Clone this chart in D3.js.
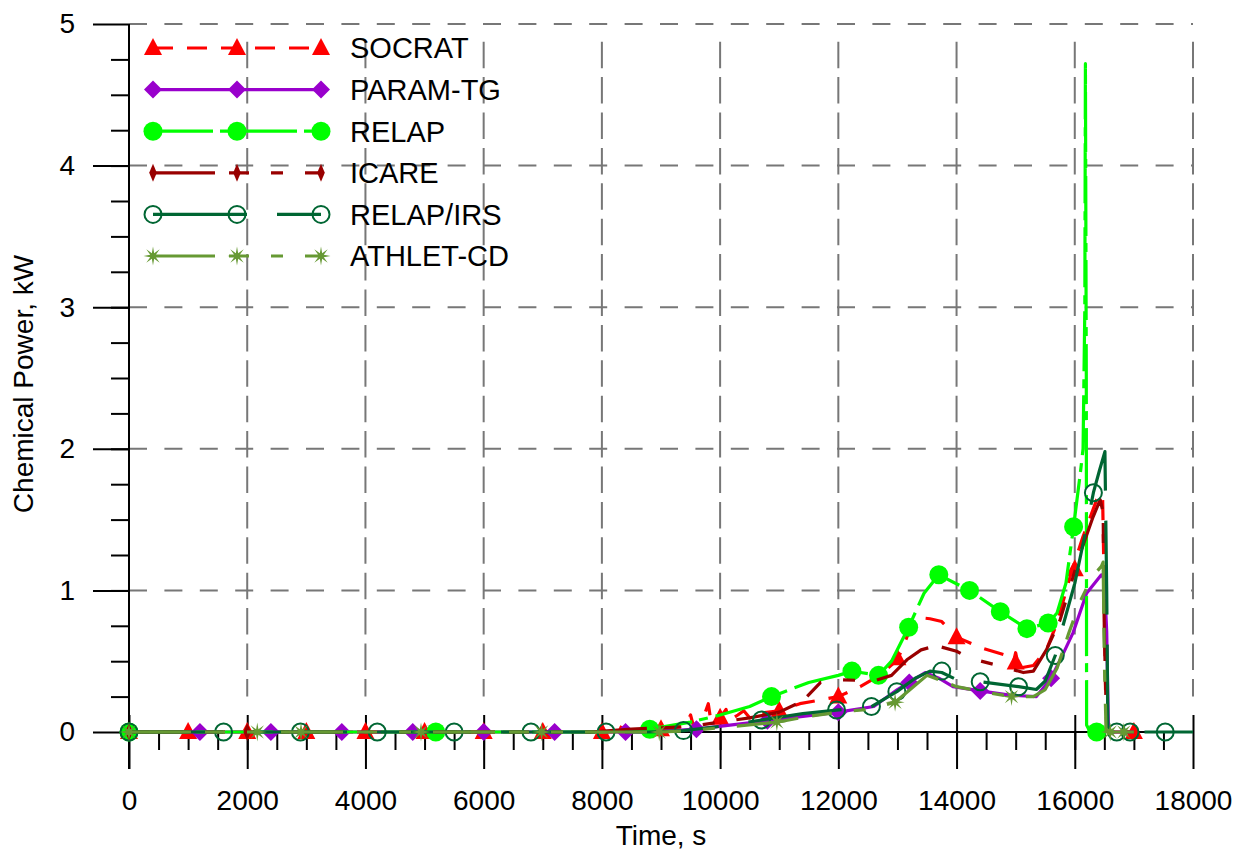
<!DOCTYPE html>
<html>
<head>
<meta charset="utf-8">
<script src="https://cdn.jsdelivr.net/npm/d3@7"></script>
<style>
  html, body { margin: 0; padding: 0; background: #fff; }
  svg { display: block; font-family: "Liberation Sans", Arial, sans-serif; }
</style>
</head>
<body>
<svg id="chart" width="1251" height="853"></svg>
<script>
// ---- data: time (s) and chemical power (kW) ----
const xTicks = [0, 2000, 4000, 6000, 8000, 10000, 12000, 14000, 16000, 18000];
const yTicks = [0, 1, 2, 3, 4, 5];

const socrat = [[0,0],[8200,0],[8300,0.01],[8360,0.07],[8420,0.01],[9000,0.02],[9400,0.04],[9500,0.12],[9550,0.04],
  [9700,0.08],[9800,0.2],[9850,0.06],[10000,0.1],[10100,0.16],[10150,0.08],[10300,0.12],[10400,0.15],[10500,0.1],
  [10600,0.13],[11000,0.15],[11350,0.2],[12000,0.25],[12370,0.32],[12700,0.40],[13000,0.51],[13160,0.67],[13320,0.81],
  [13550,0.80],[13750,0.78],[14000,0.67],[14450,0.59],[14850,0.54],[14950,0.47],[15000,0.56],[15050,0.45],[15300,0.47],
  [15520,0.58],[15700,0.77],[15950,1.14],[16140,1.38],[16370,1.64],[16470,1.68],[16490,1.2],[16520,0.3],[16560,0],[17000,0]];
const socratMarks = [[0,0],[1000,0],[2000,0],[3000,0],[4000,0],[5000,0],[6000,0],[7000,0],[8000,0],[9000,0.02],
  [10000,0.1],[11000,0.15],[12000,0.25],[13000,0.52],[14000,0.67],[15000,0.49],[16000,1.15],[17000,0]];

const paramTG = [[0,0],[8800,0],[9600,0.02],[10200,0.05],[10800,0.08],[11400,0.11],[12000,0.14],[12600,0.18],[13000,0.3],
  [13200,0.35],[13470,0.42],[13700,0.38],[13940,0.32],[14400,0.29],[14900,0.26],[15350,0.25],[15600,0.38],[15800,0.55],
  [15970,0.70],[16200,0.98],[16450,1.11],[16500,1.08],[16540,0.71],[16570,0],[17000,0]];
const paramTGMarks = [[0,0],[1200,0],[2400,0],[3600,0],[4800,0],[6000,0],[7200,0],[8400,0],[9600,0.02],[10800,0.08],
  [12000,0.14],[13200,0.35],[14400,0.29],[15600,0.38]];

const relap = [[0,0],[8000,0],[8810,0.02],[9500,0.07],[10000,0.12],[10500,0.18],[10870,0.25],[11500,0.35],[12000,0.40],
  [12230,0.43],[12680,0.40],[12900,0.50],[13190,0.74],[13450,0.98],[13700,1.11],[14220,1.0],[14740,0.85],[15190,0.73],
  [15550,0.77],[15700,0.84],[15850,1.05],[15980,1.45],[16100,1.85],[16140,2.0],[16170,3.0],[16180,4.72],[16195,2.5],
  [16200,0.05],[16260,0],[16400,0]];
const relapMarks = [[0,0],[5190,0],[8810,0.02],[10870,0.25],[12230,0.43],[12680,0.40],[13190,0.74],[13700,1.11],
  [14220,1.0],[14740,0.85],[15190,0.73],[15550,0.77],[15980,1.45],[16370,0]];

const icare = [[0,0],[7800,0],[8500,0.02],[9000,0.03],[9500,0.04],[10000,0.07],[10500,0.1],[11000,0.14],[11400,0.22],
  [11700,0.35],[12000,0.37],[12600,0.36],[12900,0.40],[13160,0.51],[13400,0.58],[13660,0.61],[14000,0.57],[14230,0.52],
  [14790,0.46],[15130,0.42],[15300,0.43],[15520,0.58],[15750,0.79],[16090,1.26],[16310,1.52],[16430,1.64],[16480,1.55],
  [16500,0.7],[16540,0],[17000,0]];
const icareMarks = [[0,0],[2000,0]];

const relapIRS = [[0,0],[8800,0],[9380,0.01],[10000,0.04],[10700,0.085],[11400,0.13],[11970,0.155],[12560,0.18],
  [12990,0.285],[13300,0.38],[13550,0.43],[13750,0.42],[14000,0.37],[14400,0.355],[15050,0.32],[15350,0.30],[15500,0.36],
  [15670,0.54],[15800,0.75],[16000,1.05],[16200,1.45],[16315,1.69],[16420,1.85],[16510,1.98],[16540,1.0],[16560,0],[18000,0]];
const relapIRSMarks = [[0,0],[1600,0],[2900,0],[4200,0],[5500,0],[6800,0],[8070,0],[9380,0.01],[10700,0.085],
  [11970,0.155],[12560,0.18],[12990,0.285],[13750,0.43],[14400,0.355],[15050,0.32],[15670,0.54],[16315,1.69],
  [16710,0],[16935,0],[17530,0]];

const athlet = [[0,0],[9000,0],[9500,0.01],[10000,0.03],[10960,0.07],[11500,0.11],[12000,0.14],[12500,0.16],[12960,0.21],
  [13300,0.33],[13500,0.40],[13700,0.37],[14000,0.32],[14500,0.28],[14930,0.25],[15300,0.25],[15500,0.3],[15700,0.45],
  [15900,0.7],[16100,0.93],[16300,1.1],[16450,1.17],[16480,1.2],[16500,0.5],[16530,0],[17000,0]];
const athletMarks = [[0,0],[2170,0],[2910,0],[4940,0],[6980,0],[8970,0],[10960,0.07],[12960,0.21],[14930,0.25],
  [16600,0],[16830,0]];

// ---- marker shapes ----
function markerPath(kind) {
  switch (kind) {
    case "triangle": return "M0,-10L9,7L-9,7Z";
    case "diamond":  return "M0,-9L9,0L0,9L-9,0Z";
    case "thin":     return "M0,-9L3.8,0L0,9L-3.8,0Z";
    case "star": {
      let p = "";
      for (let i = 0; i < 16; i++) {
        const r = i % 2 === 0 ? 9.5 : 3;
        const a = Math.PI * i / 8 - Math.PI / 2;
        p += (i ? "L" : "M") + (r * Math.cos(a)).toFixed(2) + "," + (r * Math.sin(a)).toFixed(2);
      }
      return p + "Z";
    }
  }
  return "";
}

const series = [
  { name: "SOCRAT",    data: socrat,   marks: socratMarks,   color: "#ff0000", dash: "20,14",            marker: "triangle" },
  { name: "PARAM-TG",  data: paramTG,  marks: paramTGMarks,  color: "#9900cc", dash: null,               marker: "diamond" },
  { name: "RELAP",     data: relap,    marks: relapMarks,    color: "#00ff00", dash: "60,7,9,8",         marker: "circle" },
  { name: "ICARE",     data: icare,    marks: icareMarks,    color: "#990000", dash: "62,14,20,22,12,22", marker: "thin" },
  { name: "RELAP/IRS", data: relapIRS, marks: relapIRSMarks, color: "#006633", dash: "94,30",            marker: "open" },
  { name: "ATHLET-CD", data: athlet,   marks: athletMarks,   color: "#669933", dash: "62,14,20,22,12,22", marker: "star" }
];

// ---- scales ----
const x = d3.scaleLinear().domain([0, 18000]).range([129, 1193]);
const y = d3.scaleLinear().domain([0, 5]).range([732, 24]);

const svg = d3.select("#chart");

// ---- grid ----
const grid = svg.append("g").attr("stroke", "#777").attr("stroke-width", 2).attr("fill", "none");
grid.selectAll("line.h").data(yTicks.filter(v => v > 0)).join("line")
  .attr("x1", x(0)).attr("x2", x(18000))
  .attr("y1", d => y(d)).attr("y2", d => y(d))
  .attr("stroke-dasharray", "18,17.4");
grid.selectAll("line.v").data(xTicks.filter(v => v > 0)).join("line")
  .attr("x1", d => x(d)).attr("x2", d => x(d))
  .attr("y1", y(4.875)).attr("y2", y(0.25))
  .attr("stroke-dasharray", "26.5,8.9");

// ---- axes ----
const axisStyle = g => {
  g.select(".domain").remove();
  g.selectAll(".tick line").attr("stroke", "#000").attr("stroke-width", 2);
  g.selectAll("text").attr("fill", "#000").style("font-size", "28px")
    .style("font-family", "'Liberation Sans', Arial, sans-serif");
};

// minor x ticks
svg.append("g").attr("transform", `translate(0,${y(0)})`)
  .call(d3.axisBottom(x).tickValues(d3.range(500, 18000, 500)).tickSize(18).tickFormat(""))
  .call(axisStyle);
// major x ticks with labels
const gx = svg.append("g").attr("transform", `translate(0,${y(0)})`)
  .call(d3.axisBottom(x).tickValues(xTicks).tickSize(37).tickPadding(21).tickFormat(d3.format("d")))
  .call(axisStyle);
gx.selectAll(".tick line").attr("y1", -17);

// minor y ticks
svg.append("g").attr("transform", `translate(${x(0)},0)`)
  .call(d3.axisLeft(y).tickValues(d3.range(0.25, 5, 0.25)).tickSize(18).tickFormat(""))
  .call(axisStyle);
// major y ticks with labels
svg.append("g").attr("transform", `translate(${x(0)},0)`)
  .call(d3.axisLeft(y).tickValues(yTicks).tickSize(36).tickPadding(18).tickFormat(d3.format("d")))
  .call(axisStyle);

// axis lines
svg.append("line").attr("x1", x(0)).attr("x2", x(0)).attr("y1", y(5)).attr("y2", y(0) + 37)
  .attr("stroke", "#000").attr("stroke-width", 2);
svg.append("line").attr("x1", x(0)).attr("x2", x(18000)).attr("y1", y(0)).attr("y2", y(0))
  .attr("stroke", "#000").attr("stroke-width", 2);

// axis titles
svg.append("text").attr("x", (x(0) + x(18000)) / 2).attr("y", 845)
  .attr("text-anchor", "middle").style("font-size", "28px").text("Time, s");
svg.append("text").attr("transform", "translate(33,384) rotate(-90)")
  .attr("text-anchor", "middle").style("font-size", "28px").text("Chemical Power, kW");

// ---- series ----
const line = d3.line().x(d => x(d[0])).y(d => y(d[1]));

function drawMarker(sel, s) {
  if (s.marker === "circle") {
    sel.append("circle").attr("r", 9.5).attr("fill", s.color);
  } else if (s.marker === "open") {
    sel.append("circle").attr("r", 8.5).attr("fill", "none").attr("stroke", s.color).attr("stroke-width", 2);
  } else {
    sel.append("path").attr("d", markerPath(s.marker)).attr("fill", s.color);
  }
}

const plot = svg.append("g");
series.forEach(s => {
  const g = plot.append("g");
  g.append("path").datum(s.data).attr("d", line)
    .attr("fill", "none").attr("stroke", s.color).attr("stroke-width", 3.2)
    .attr("stroke-linejoin", "round")
    .attr("stroke-dasharray", s.dash);
  g.selectAll("g.m").data(s.marks).join("g")
    .attr("transform", d => `translate(${x(d[0])},${y(d[1])})`)
    .each(function () { drawMarker(d3.select(this), s); });
});

// ---- legend ----
const legend = svg.append("g");
series.forEach((s, i) => {
  const yy = 48 + i * 41.6;
  const g = legend.append("g").attr("transform", `translate(0,${yy})`);
  g.append("line").attr("x1", 153).attr("x2", 321).attr("y1", 0).attr("y2", 0)
    .attr("stroke", s.color).attr("stroke-width", 3.2).attr("stroke-dasharray", s.dash);
  [153, 237, 321].forEach(px => {
    drawMarker(g.append("g").attr("transform", `translate(${px},0)`), s);
  });
  g.append("text").attr("x", 350).attr("y", 0).attr("dy", "0.36em")
    .style("font-size", "29px").text(s.name);
});
</script>
</body>
</html>
